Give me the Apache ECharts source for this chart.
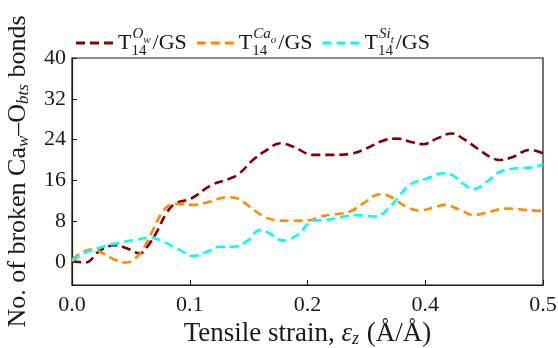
<!DOCTYPE html>
<html>
<head>
<meta charset="utf-8">
<script src="https://cdn.jsdelivr.net/npm/echarts@6/dist/echarts.min.js"></script>
<style>
html,body{margin:0;padding:0;background:#fff;}
#chart{width:558px;height:348px;}
</style>
</head>
<body>
<div id="chart"></div>
<script>
// ---- data ----
const seriesNames = ['Ow', 'Cao', 'Sit'];

const owX = [0, 0.014, 0.030, 0.046, 0.058, 0.072, 0.081, 0.090, 0.100, 0.109, 0.127, 0.148, 0.168, 0.178, 0.192, 0.207, 0.221, 0.235, 0.256, 0.277, 0.295, 0.313, 0.330, 0.345, 0.359, 0.373, 0.387, 0.403, 0.415, 0.430, 0.444, 0.454, 0.468, 0.486, 0.5];
const owY = [0.2, -0.1, 2.3, 3.3, 2.7, 1.7, 3.3, 5.9, 9.5, 11.4, 12.5, 15.1, 16.4, 17.4, 20, 22, 23.3, 22.6, 21, 21, 21.2, 22.3, 23.8, 24.2, 23.6, 23.1, 24.2, 25.2, 24.2, 22.3, 20.6, 20, 20.6, 22, 21.3];

const caoX = [0, 0.012, 0.023, 0.033, 0.046, 0.058, 0.067, 0.076, 0.086, 0.095, 0.104, 0.115, 0.129, 0.146, 0.164, 0.175, 0.189, 0.203, 0.217, 0.235, 0.253, 0.263, 0.277, 0.295, 0.309, 0.327, 0.338, 0.355, 0.369, 0.384, 0.396, 0.412, 0.426, 0.444, 0.461, 0.483, 0.5];
const caoY = [0.5, 2.0, 2.5, 1.7, 0.4, -0.1, 0.7, 2.7, 6.3, 9.5, 11.2, 11.4, 11.2, 11.8, 12.7, 12.5, 10.8, 9.0, 8.2, 8.1, 8.2, 8.9, 9.3, 9.9, 11.5, 13.3, 12.8, 10.8, 10.1, 10.7, 11.2, 10.2, 9.2, 9.9, 10.5, 10.2, 10];

const sitX = [0, 0.016, 0.033, 0.051, 0.069, 0.083, 0.093, 0.108, 0.118, 0.129, 0.143, 0.157, 0.171, 0.185, 0.200, 0.210, 0.224, 0.239, 0.256, 0.270, 0.288, 0.302, 0.323, 0.334, 0.345, 0.359, 0.377, 0.394, 0.405, 0.415, 0.426, 0.440, 0.454, 0.472, 0.490, 0.5];
const sitY = [0.2, 2.0, 3.0, 3.8, 4.4, 4.8, 4.3, 3.0, 2.0, 1.2, 2.0, 3.0, 3.0, 4.0, 6.3, 5.6, 4.2, 5.3, 8.1, 8.3, 8.9, 9.2, 8.9, 10.2, 12.4, 15.2, 16.4, 17.4, 16.9, 15.4, 14.3, 15.7, 17.7, 18.4, 18.6, 19.2];

const xTickValues = [0, 0.125, 0.25, 0.375, 0.5];
const xTickLabels = ['0.0', '0.1', '0.2', '0.4', '0.5'];
const yTickValues = [0, 8, 16, 24, 32, 40];
const yTickLabels = ['0', '8', '16', '24', '32', '40'];

// ---- chart ----
const FONT = 'Liberation Serif';
const INK = '#1a1a1a';
const colors = ['#800000', '#ff8c00', '#00ffff'];
function pairs(xs, ys) { return xs.map((x, i) => [x, ys[i]]); }

const legendRich = {
  t: { fontFamily: FONT, fontSize: 22, lineHeight: 34, color: INK },
  n: { fontFamily: FONT, fontSize: 15, lineHeight: 15, verticalAlign: 'bottom', width: 1, color: INK, padding: [0, 0, 1, 0] },
  s: { fontFamily: FONT, fontSize: 15, lineHeight: 15, verticalAlign: 'top', fontStyle: 'italic', color: INK, padding: [1, 0, 0, 0] },
  ss: { fontFamily: FONT, fontSize: 11, lineHeight: 11, verticalAlign: 'top', fontStyle: 'italic', padding: [9, 0, 0, 0], color: INK },
  g: { fontFamily: FONT, fontSize: 22, lineHeight: 34, color: INK, padding: [0, 0, 0, 2] }
};
const legendSup = { Ow: ['O', 'w'], Cao: ['Ca', 'o'], Sit: ['Si', 't'] };
const dashIcon = 'path://M0,0h9v3h-9zM14,0h9v3h-9zM28,0h9v3h-9z';

const chart = echarts.init(document.getElementById('chart'), null, { renderer: 'canvas' });
chart.setOption({
  animation: false,
  backgroundColor: '#fff',
  grid: { left: 72, right: 15, top: 58, bottom: 63, outerBoundsMode: 'none', containLabel: false, show: true, borderColor: INK, borderWidth: 1.2, backgroundColor: 'transparent' },
  legend: {
    left: 71, top: 21,
    itemWidth: 37, itemHeight: 3, itemGap: 10,
    icon: dashIcon,
    data: seriesNames,
    formatter: function (name) {
      const p = legendSup[name];
      return '{t|T}{n|14}{s|' + p[0] + '}{ss|' + p[1] + '}{g|/GS}';
    },
    textStyle: { rich: legendRich, fontFamily: FONT, fontSize: 22, color: INK }
  },
  xAxis: {
    type: 'value', min: 0, max: 0.5, interval: 0.125,
    axisLine: { show: true, onZero: false, lineStyle: { color: INK, width: 1.2 } },
    axisTick: { show: true, inside: true, length: 5, lineStyle: { color: INK } },
    splitLine: { show: false },
    axisLabel: {
      margin: 9, fontFamily: FONT, fontSize: 22, color: INK,
      showMinLabel: true, showMaxLabel: true,
      formatter: function (v) { const i = xTickValues.findIndex(t => Math.abs(t - v) < 1e-9); return i >= 0 ? xTickLabels[i] : ''; }
    },
    name: '{t|Tensile strain, }{e|ε}{z|z}{t| (Å/Å)}',
    nameLocation: 'middle', nameGap: 30,
    nameTextStyle: {
      fontFamily: FONT, fontSize: 27, color: INK,
      rich: {
        t: { fontFamily: FONT, fontSize: 27, lineHeight: 32, color: INK },
        e: { fontFamily: FONT, fontSize: 27, lineHeight: 32, fontStyle: 'italic', color: INK },
        z: { fontFamily: FONT, fontSize: 18, lineHeight: 18, verticalAlign: 'bottom', fontStyle: 'italic', color: INK, padding: [0, 1, 2, 0] }
      }
    }
  },
  yAxis: {
    type: 'value', min: -4.5, max: 40,
    axisLine: { show: true, onZero: false, lineStyle: { color: INK, width: 1.2 } },
    axisTick: { show: true, inside: true, length: 5, customValues: yTickValues, lineStyle: { color: INK } },
    splitLine: { show: false },
    axisLabel: {
      margin: 6, fontFamily: FONT, fontSize: 22, color: INK,
      customValues: yTickValues,
      formatter: function (v) { const i = yTickValues.indexOf(v); return i >= 0 ? yTickLabels[i] : ''; }
    },
    name: '{t|No. of broken Ca}{u|w}{t|–O}{u|bts}{t| bonds}',
    nameLocation: 'middle', nameGap: 36, nameRotate: 90,
    nameTextStyle: {
      fontFamily: FONT, fontSize: 26, color: INK,
      rich: {
        t: { fontFamily: FONT, fontSize: 26, lineHeight: 30, color: INK },
        u: { fontFamily: FONT, fontSize: 17, lineHeight: 17, verticalAlign: 'bottom', fontStyle: 'italic', color: INK, padding: [0, 0, 1, 0] }
      }
    }
  },
  series: [
    { name: 'Ow', type: 'line', data: pairs(owX, owY), smooth: 0.4, showSymbol: false, symbol: 'none', lineStyle: { color: colors[0], width: 2.6, type: [9, 5] }, itemStyle: { color: colors[0] } },
    { name: 'Cao', type: 'line', data: pairs(caoX, caoY), smooth: 0.4, showSymbol: false, symbol: 'none', lineStyle: { color: colors[1], width: 2.6, type: [9, 5] }, itemStyle: { color: colors[1] } },
    { name: 'Sit', type: 'line', data: pairs(sitX, sitY), smooth: 0.4, showSymbol: false, symbol: 'none', lineStyle: { color: colors[2], width: 2.6, type: [9, 5] }, itemStyle: { color: colors[2] } }
  ]
});
</script>
</body>
</html>
